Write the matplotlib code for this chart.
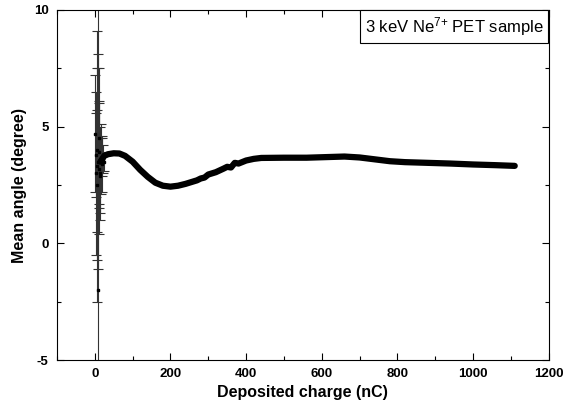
import matplotlib.pyplot as plt
from matplotlib.ticker import MultipleLocator

plt.rcParams['font.family'] = ['Liberation Sans', 'DejaVu Sans']
plt.rcParams['font.weight'] = 'bold'
plt.rcParams['axes.unicode_minus'] = False
plt.rcParams['mathtext.fontset'] = 'custom'
plt.rcParams['mathtext.rm'] = 'Liberation Sans:weight=normal'
plt.rcParams['mathtext.it'] = 'Liberation Sans:weight=normal'

# main smooth curve (deposited charge in nC, mean angle in degree)
charge = [15, 25, 35, 50, 65, 80, 100, 120, 140, 160, 180, 200, 220, 240, 260,
          270, 280, 290, 300, 320, 340, 350, 360, 370, 380, 400, 420, 440, 500,
          560, 620, 660, 700, 740, 780, 820, 880, 940, 1000, 1060, 1110]
angle = [3.5, 3.75, 3.82, 3.86, 3.85, 3.75, 3.5, 3.15, 2.85, 2.6, 2.47, 2.43,
         2.47, 2.55, 2.65, 2.7, 2.78, 2.82, 2.95, 3.05, 3.2, 3.28, 3.25, 3.45,
         3.42, 3.55, 3.62, 3.66, 3.67, 3.67, 3.7, 3.72, 3.68, 3.6, 3.52, 3.48,
         3.45, 3.42, 3.38, 3.35, 3.32]

# noisy first points with error bars
early_x = [0, 2, 4, 5, 6, 7, 8, 9, 10, 11, 12, 13, 14, 16, 18, 20, 22, 24]
early_y = [4.7, 3.0, 3.8, 3.3, 2.5, 4.0, -2.0, 3.5, 4.5, 3.2, 3.9, 2.9, 3.0,
           3.6, 3.4, 3.7, 3.6, 3.5]
early_err = [2.5, 3.5, 1.8, 5.8, 3.2, 3.5, 14.0, 4.6, 3.0, 2.8, 2.2, 1.6, 2.0,
             1.5, 1.2, 0.8, 0.6, 0.4]

fig = plt.figure(figsize=(5.64, 4.13), dpi=100)
ax = fig.add_axes([0.101, 0.128, 0.872, 0.848])

ax.errorbar(early_x, early_y, yerr=early_err, fmt='s', ms=2, color='black',
            ecolor='#333333', elinewidth=0.8, capsize=3.5, capthick=0.8)
ax.plot(charge, angle, color='black', lw=4.5, solid_capstyle='round')

ax.set_xlim(-100, 1200)
ax.set_ylim(-5, 10)
ax.xaxis.set_major_locator(MultipleLocator(200))
ax.xaxis.set_minor_locator(MultipleLocator(100))
ax.yaxis.set_major_locator(MultipleLocator(5))
ax.yaxis.set_minor_locator(MultipleLocator(2.5))
ax.tick_params(which='both', direction='in', top=True, right=True, width=0.8)
ax.tick_params(which='major', length=5, labelsize=9.5, pad=6)
ax.tick_params(which='minor', length=3)
for s in ax.spines.values():
    s.set_linewidth(0.8)

ax.set_xlabel('Deposited charge (nC)', fontsize=11.5, fontweight='bold',
              labelpad=3)
ax.set_ylabel('Mean angle (degree)', fontsize=11.5, fontweight='bold',
              labelpad=5)

ax.annotate(r'3 keV Ne$^{7{+}}$ PET sample', xy=(1, 1), xycoords='axes fraction',
            xytext=(-3.8, -3.8), textcoords='offset points',
            ha='right', va='top', fontsize=12, fontweight='normal',
            bbox=dict(boxstyle='square,pad=0.3', fc='white', ec='black', lw=0.8))

fig.savefig('out.png', dpi=100)
